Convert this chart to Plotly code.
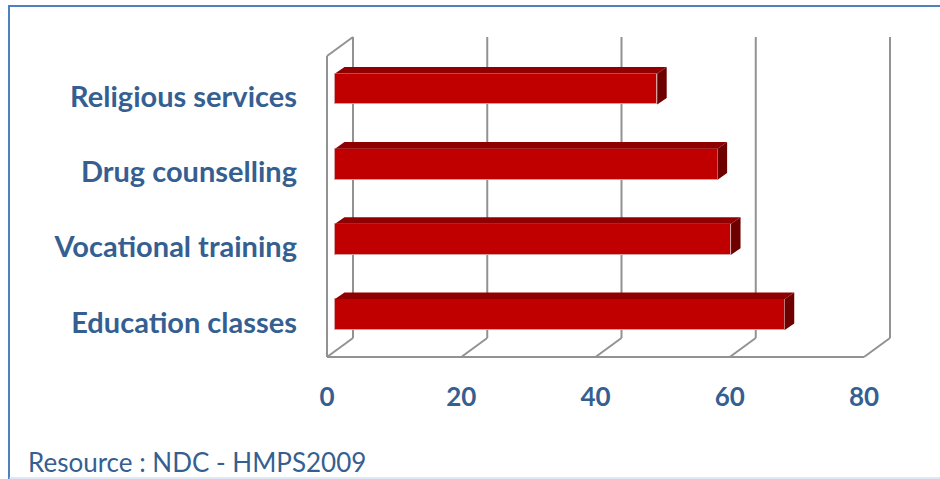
import plotly.graph_objects as go

# ---------------- data ----------------
categories = ["Education classes", "Vocational training", "Drug counselling", "Religious services"]
values = [67, 59, 57, 48]
x_ticks = [0, 20, 40, 60, 80]
source_text = "Resource : NDC - HMPS2009"

# ---------------- geometry (pixels) ----------------
W, H = 940, 479
L, R, T, B = 300, 920, 20, 370          # plot area box in pixels
K = 6.7125                               # px per value unit
X0_BAR = 335                             # value 0 on the bars' front plane
X0_FRONT = 327                           # value 0 on the chart's front plane
CAT_PX = 75.17                           # px between categories
Y0_PX = 314.5                            # centre of first category (px)
LABEL_SHIFT = 8                          # category labels sit lower (front plane)
FLOOR_PX = 357                           # front floor line
TOP_PX = 37                              # top of back wall
DEPTH_X, DEPTH_Y = 26, 19                # wall depth offset (px)
BAR_DX, BAR_DY = 9.5, 6.6                # bar depth offset (px)
BAR_W = 0.412

BLUE = "#365F91"
GRID = "#929292"
FONT = "Lato"


def yd(px):
    return (Y0_PX - px) / CAT_PX


def px2paper_x(px):
    return (px - L) / (R - L)


def px2paper_y(px):
    return (B - px) / (B - T)


fig = go.Figure()
ypos = list(range(len(categories)))
fig.add_trace(go.Bar(
    x=values, y=ypos, orientation="h", width=BAR_W,
    marker=dict(color="#C00000", line=dict(color="#D9A0A0", width=1)),
    hoverinfo="x+y", showlegend=False,
))

shapes = []
ddx = DEPTH_X / K
ddy = DEPTH_Y / CAT_PX
yf = yd(FLOOR_PX)
ytop = yd(TOP_PX)
gl = dict(color=GRID, width=2)
# back wall gridlines and floor diagonals
for t in x_ticks:
    shapes.append(dict(type="line", xref="x2", yref="y", x0=t + ddx, x1=t + ddx,
                       y0=yf + ddy, y1=ytop, line=gl, layer="below"))
    shapes.append(dict(type="line", xref="x2", yref="y", x0=t, x1=t + ddx,
                       y0=yf, y1=yf + ddy, line=gl, layer="below"))
# front floor line
shapes.append(dict(type="line", xref="x2", yref="y", x0=x_ticks[0], x1=x_ticks[-1],
                   y0=yf, y1=yf, line=gl, layer="below"))
# left wall
shapes.append(dict(type="line", xref="x2", yref="y", x0=x_ticks[0], x1=x_ticks[0],
                   y0=yf, y1=ytop - ddy, line=gl, layer="below"))
shapes.append(dict(type="line", xref="x2", yref="y", x0=x_ticks[0], x1=x_ticks[0] + ddx,
                   y0=ytop - ddy, y1=ytop, line=gl, layer="below"))

# 3-D faces of the bars
bdx = BAR_DX / K
bdy = BAR_DY / CAT_PX
for i, v in zip(ypos, values):
    yt = i + BAR_W / 2
    yb = i - BAR_W / 2
    shapes.append(dict(type="path", xref="x", yref="y",
                       path=f"M 0,{yt} L {v},{yt} L {v + bdx},{yt + bdy} L {bdx},{yt + bdy} Z",
                       fillcolor="#900000", line=dict(width=0), layer="above"))
    shapes.append(dict(type="path", xref="x", yref="y",
                       path=f"M {v},{yt} L {v},{yb} L {v + bdx},{yb + bdy} L {v + bdx},{yt + bdy} Z",
                       fillcolor="#6E0000", line=dict(width=0), layer="above"))

# outer frame
shapes.append(dict(type="line", xref="paper", yref="paper",
                   x0=px2paper_x(8), x1=px2paper_x(W), y0=px2paper_y(6), y1=px2paper_y(6),
                   line=dict(color="#4F81BD", width=2)))
shapes.append(dict(type="line", xref="paper", yref="paper",
                   x0=px2paper_x(9), x1=px2paper_x(9), y0=px2paper_y(5), y1=px2paper_y(H),
                   line=dict(color="#4F81BD", width=2)))
shapes.append(dict(type="line", xref="paper", yref="paper",
                   x0=px2paper_x(9), x1=px2paper_x(W), y0=px2paper_y(478), y1=px2paper_y(478),
                   line=dict(color="#BCD2EA", width=1)))

yrange = [(Y0_PX - B) / CAT_PX, (Y0_PX - T) / CAT_PX]
yrange_lbl = [(Y0_PX + LABEL_SHIFT - B) / CAT_PX, (Y0_PX + LABEL_SHIFT - T) / CAT_PX]

fig.update_layout(
    width=W, height=H,
    margin=dict(l=L, r=W - R, t=T, b=H - B, pad=0),
    paper_bgcolor="white", plot_bgcolor="rgba(0,0,0,0)",
    bargap=0,
    xaxis=dict(range=[(L - X0_BAR) / K, (R - X0_BAR) / K], showgrid=False, zeroline=False,
               showticklabels=False, showline=False, fixedrange=True, automargin=False),
    xaxis2=dict(range=[(L - X0_FRONT) / K, (R - X0_FRONT) / K], overlaying="x", anchor="y",
                side="bottom", tickvals=x_ticks, ticktext=[str(t) for t in x_ticks],
                showgrid=False, zeroline=False, showline=False, ticks="",
                ticklabelstandoff=9,
                tickfont=dict(family=FONT, size=26, color=BLUE, weight="bold"),
                automargin=False),
    yaxis=dict(range=yrange, showgrid=False, zeroline=False, showline=False, ticks="",
               showticklabels=False, automargin=False),
    yaxis2=dict(range=yrange_lbl, overlaying="y", anchor="x", side="left", tickvals=ypos,
                ticktext=categories, showgrid=False, zeroline=False, showline=False, ticks="",
                ticklabelstandoff=2,
                tickfont=dict(family=FONT, size=29, color=BLUE, weight="bold"),
                automargin=False),
    shapes=shapes,
    annotations=[dict(text=source_text, xref="paper", yref="paper",
                      x=px2paper_x(26), y=px2paper_y(462), xanchor="left", yanchor="middle",
                      showarrow=False, font=dict(family=FONT, size=26, color=BLUE))],
)
# invisible traces that activate the label axes
fig.add_trace(go.Scatter(x=[x_ticks[0]], y=[ypos[0]], xaxis="x2", yaxis="y", mode="markers",
                         marker=dict(opacity=0), hoverinfo="skip", showlegend=False))
fig.add_trace(go.Scatter(x=[values[0]], y=[ypos[0]], xaxis="x", yaxis="y2", mode="markers",
                         marker=dict(opacity=0), hoverinfo="skip", showlegend=False))

fig.write_html("out.html", config={"displayModeBar": False},
               post_script="document.body.style.margin='0';")
